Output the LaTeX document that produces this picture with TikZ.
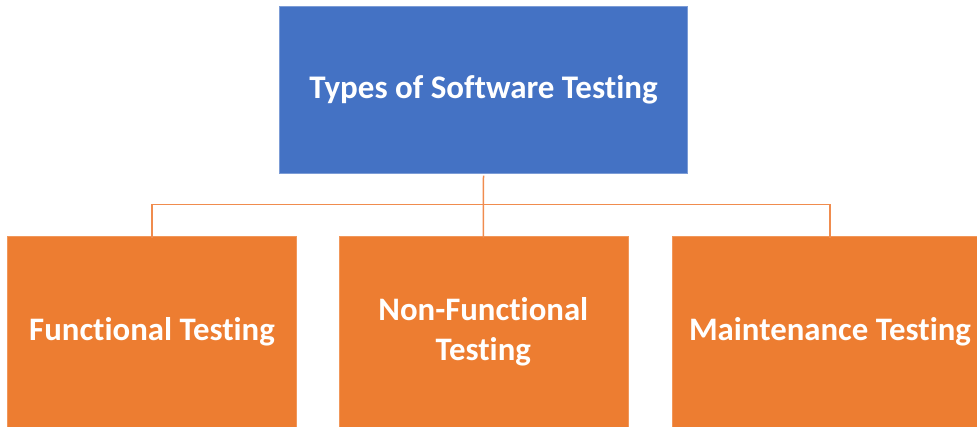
\documentclass[tikz,border=0pt]{standalone}
\usepackage{fontspec}
\setmainfont[Ligatures=NoCommon]{Carlito}
\usepackage{tikz}
\usepackage{color}
\definecolor{topblue}{HTML}{4472C4}
\definecolor{subor}{HTML}{ED7D31}
\definecolor{linkor}{HTML}{F08C4E}
\begin{document}
\begin{tikzpicture}[x=1pt,y=-1pt]
\tikzstyle{every node}+=[inner sep=0pt]
\tikzstyle{topbox}=[fill=topblue,draw=topblue!70!white,line width=0.5pt,minimum width=408pt,minimum height=167pt,text=white,font=\bfseries\fontsize{33}{40}\selectfont]
\tikzstyle{subbox}=[fill=subor,draw=subor!80!white,line width=0.5pt,minimum width=289pt,minimum height=192pt,text=white,align=center,font=\bfseries\fontsize{32.8}{40}\selectfont]
\tikzstyle{link}=[linkor,line width=1.5pt]
\useasboundingbox (0,0) rectangle (977,427);
\node [topbox] (types) at (483.5,90) {Types of Software Testing};
\node [subbox] (func) at (152,332) {Functional Testing};
\node [subbox] (nonfunc) at (483.3,332) {Non-Functional\\Testing};
\node [subbox,minimum width=316pt] (maint) at (830,332) {Maintenance Testing};
\coordinate (bus) at (483.5,204.5);
\draw [link] (types.south) ++(0,2) -- ([yshift=-2pt]nonfunc.north);
\draw [link] ([yshift=-2pt]func.north) |- (bus) -| ([yshift=-2pt]maint.north);
\end{tikzpicture}
\end{document}
